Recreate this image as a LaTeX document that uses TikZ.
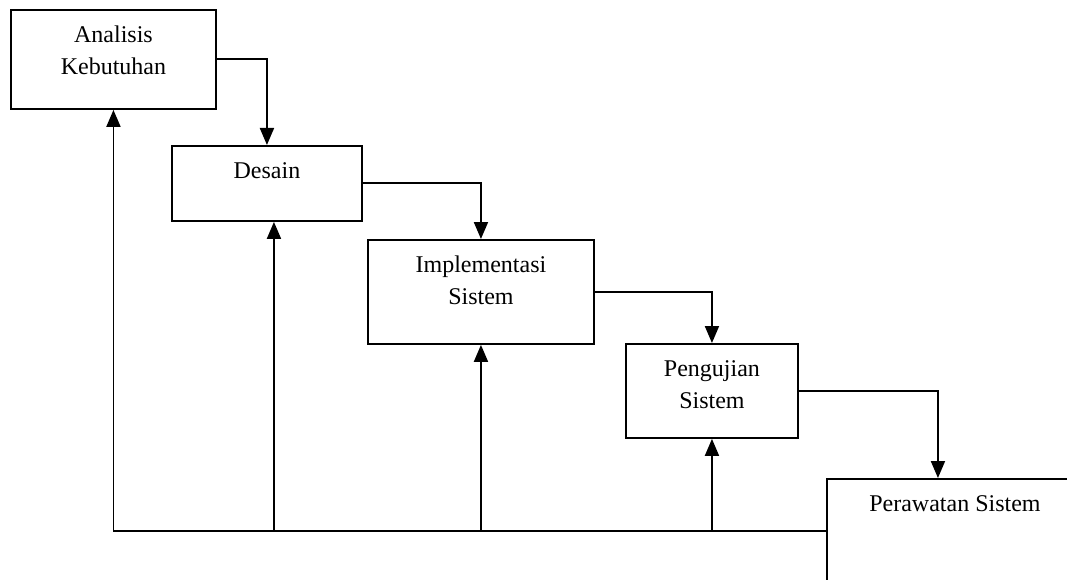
\documentclass[tikz,border=0pt]{standalone}
\usepackage{fontspec}
\setmainfont{Liberation Serif}
\usetikzlibrary{arrows.meta,calc}
\newcommand\tstrut{\rule{0pt}{18pt}}
\begin{document}
\begin{tikzpicture}[x=1pt,y=-1pt,
  box/.style 2 args={draw, line width=1.9pt, minimum width=#1, minimum height=#2, inner sep=0pt, anchor=north west},
  txt/.style={anchor=north, inner sep=0pt, align=center, font=\fontsize{24}{31.5}\selectfont},
  conn/.style={line width=1.9pt},
  arr/.style={conn, -{Triangle[length=17pt,width=14pt]}}
]
\useasboundingbox (0,0) rectangle (1067,580);
\clip (0,0) rectangle (1067,580);
\fill[white] (0,0) rectangle (1067,580);

\node[box={205pt}{99pt}] (p1) at (10,9) {};
\node[box={190pt}{75pt}] (p2) at (171,145) {};
\node[box={226pt}{104pt}] (p3) at (367,239) {};
\node[box={172pt}{94pt}] (p4) at (625,343) {};
\node[box={256pt}{130pt}] (p5) at (826,478) {};

\node[txt] (t1) at ($(p1.north)+(0,15.5)$) {\tstrut Analisis\\Kebutuhan};
\node[txt] (t2) at ($(p2.north)+(0,15.5)$) {\tstrut Desain};
\node[txt] (t3) at ($(p3.north)+(0,15.5)$) {\tstrut Implementasi\\Sistem};
\node[txt] (t4) at ($(p4.north)+(0,15.5)$) {\tstrut Pengujian\\Sistem};
\node[txt] (t5) at ($(p5.north)+(0,15.5)$) {\tstrut Perawatan Sistem};

\coordinate (bus) at (0,531);
\coordinate (d5) at ([xshift=-17pt]p5.north);
\coordinate (u2) at ([xshift=7pt]p2.south);

\draw[arr] (p1.east) -| (p2.north);
\draw[arr] (p2.east) -| (p3.north);
\draw[arr] (p3.east) -| (p4.north);
\draw[arr] (p4.east) -| (d5);

\draw[arr] (p5.west |- bus) -| (p1.south);
\draw[arr] (u2 |- bus) -- (u2);
\draw[arr] (p3.south |- bus) -- (p3.south);
\draw[arr] (p4.south |- bus) -- (p4.south);
\end{tikzpicture}
\end{document}
